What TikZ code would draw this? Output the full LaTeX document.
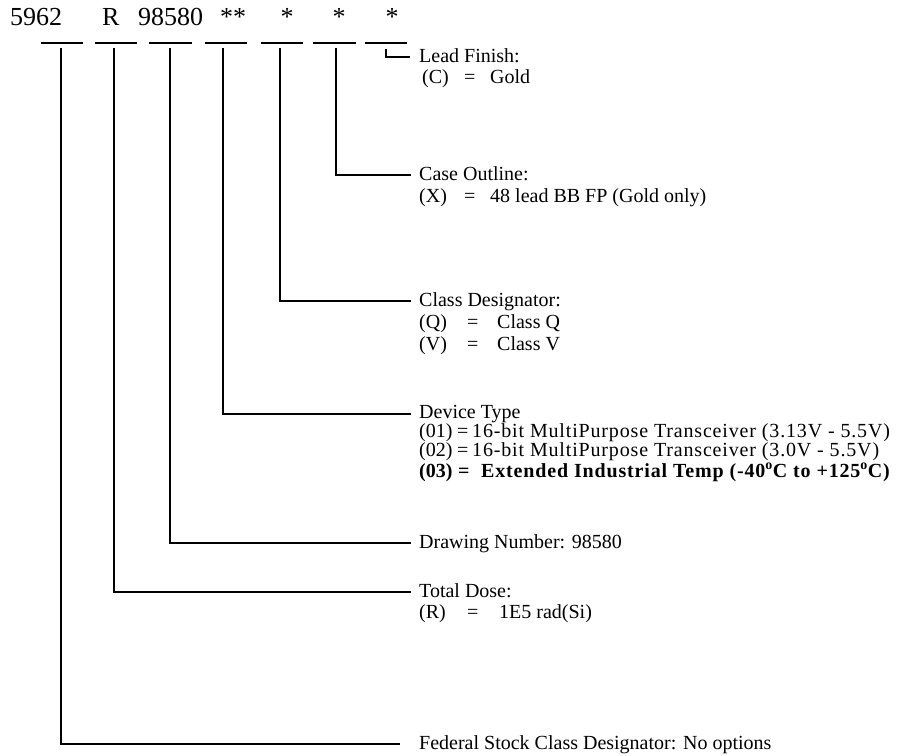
\documentclass[tikz,border=0pt]{standalone}
\usepackage{fontspec}
\setmainfont{Liberation Serif}
\newfontfamily\devfont[LetterSpace=4.2]{Liberation Serif}
\begin{document}
\begin{tikzpicture}[x=1pt,y=-1pt,
  lbl/.style={anchor=base west,inner sep=0pt,font=\fontsize{20}{24}\selectfont},
  devlbl/.style={anchor=base west,inner sep=0pt,font=\fontsize{20}{24}\devfont},
  toptxt/.style={anchor=base west,inner sep=0pt,font=\fontsize{26}{30}\selectfont},
  ln/.style={line width=1.6pt,line cap=butt}]
\useasboundingbox (0,0) rectangle (907,755);
% top row
\node[toptxt] (t1) at (10,25) {5962};
\node[toptxt] (t2) at (102,25) {R};
\node[toptxt] (t3) at (138,25) {98580};
\node[toptxt] (t4) at (220,25) {**};
\node[toptxt,anchor=base] (t5) at (287,25) {*};
\node[toptxt,anchor=base] (t6) at (339,25) {*};
\node[toptxt,anchor=base] (t7) at (392,25) {*};
% underline segments
\foreach \a/\b [count=\i] in {41/83,95/137,149/192,205/247,261/303,313/356,365/407}{
  \coordinate (ua\i) at (\a,43); \coordinate (ub\i) at (\b,43);
  \draw[ln] (ua\i) -- (ub\i);
}
% connector start and end points
\coordinate (s1) at (61,48);   \coordinate (e1) at (400,744);
\coordinate (s2) at (114,48);  \coordinate (e2) at (411,592);
\coordinate (s3) at (170,48);  \coordinate (e3) at (411,543);
\coordinate (s4) at (223,48);  \coordinate (e4) at (411,414);
\coordinate (s5) at (280,48);  \coordinate (e5) at (411,301);
\coordinate (s6) at (336,48);  \coordinate (e6) at (411,175);
\coordinate (s7) at (386,49);  \coordinate (e7) at (410,57);
\foreach \i in {1,...,7}{ \draw[ln] (s\i) |- (e\i); }
% Lead finish
\node[lbl] (lf) at (419,62) {Lead Finish:};
\node[lbl] (lfa) at (422,83) {(C)};
\node[lbl] (lfb) at (464,83) {=};
\node[lbl] (lfc) at (490,83) {Gold};
% Case outline
\node[lbl] (co) at (419,180) {Case Outline:};
\node[lbl] (coa) at (419,202) {(X)};
\node[lbl] (cob) at (464,202) {=};
\node[lbl] (coc) at (490,202) {48 lead BB FP (Gold only)};
% Class designator
\node[lbl] (cd) at (419,306) {Class Designator:};
\node[lbl] (cda) at (419,328) {(Q)};
\node[lbl] (cdb) at (467,328) {=};
\node[lbl] (cdc) at (497,328) {Class Q};
\node[lbl] (cdd) at (419,350) {(V)};
\node[lbl] (cde) at (467,350) {=};
\node[lbl] (cdf) at (497,350) {Class V};
% Device type
\node[lbl] (dt) at (419,418) {Device Type};
\node[lbl] (dta) at (419,437) {(01)};
\node[lbl] (dtb) at (457,437) {=};
\node[devlbl] (dtc) at (472,437) {16-bit MultiPurpose Transceiver (3.13V - 5.5V)};
\node[lbl] (dtd) at (419,456) {(02)};
\node[lbl] (dte) at (457,456) {=};
\node[devlbl] (dtf) at (472,456) {16-bit MultiPurpose Transceiver (3.0V - 5.5V)};
\node[lbl,font=\fontsize{20}{24}\selectfont\bfseries] (dtg) at (419,477) {(03)};
\node[lbl,font=\fontsize{20}{24}\selectfont\bfseries] (dth) at (458,477) {=};
\node[devlbl,font=\fontsize{20}{24}\devfont\bfseries] (dti) at (481,477) {Extended Industrial Temp (-40\textsuperscript{o}C to +125\textsuperscript{o}C)};
% Drawing number
\node[lbl] (dn) at (419,548) {Drawing Number: 98580};
% Total dose
\node[lbl] (td) at (419,597) {Total Dose:};
\node[lbl] (tda) at (419,618) {(R)};
\node[lbl] (tdb) at (467,618) {=};
\node[lbl] (tdc) at (499,618) {1E5 rad(Si)};
% Federal
\node[lbl] (fs) at (419,749) {Federal Stock Class Designator: No options};
\end{tikzpicture}
\end{document}
